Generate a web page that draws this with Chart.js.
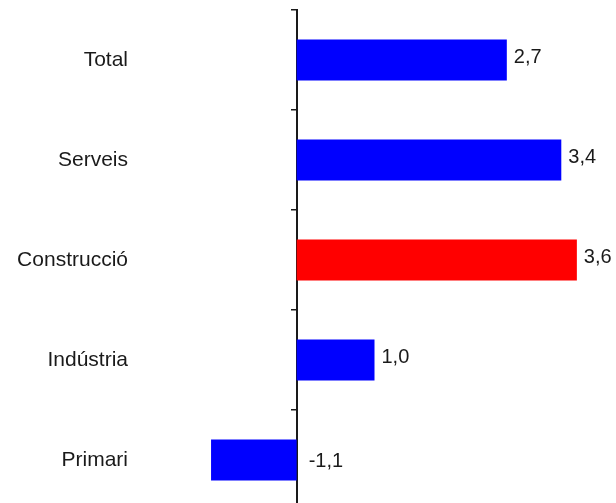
<!DOCTYPE html>
<html>
<head>
<meta charset="utf-8">
<script src="https://cdn.jsdelivr.net/npm/chart.js@4/dist/chart.umd.min.js"></script>
<style>
html,body{margin:0;padding:0;background:#fff;overflow:hidden;}
canvas{display:block;}
</style>
</head>
<body>
<canvas id="c" width="616" height="510"></canvas>
<script>
const categories = ['Total', 'Serveis', 'Construcció', 'Indústria', 'Primari'];
const values = [2.7, 3.4, 3.6, 1.0, -1.1];
const barColors = ['#0000ff', '#0000ff', '#ff0000', '#0000ff', '#0000ff'];
const xMin = -2;
const xMax = 4;

const valueLabels = {
  id: 'valueLabels',
  afterDatasetsDraw(chart) {
    const ctx = chart.ctx;
    const meta = chart.getDatasetMeta(0);
    const zero = chart.scales.x.getPixelForValue(0);
    ctx.save();
    ctx.font = '20px "Liberation Sans", Arial, sans-serif';
    ctx.fillStyle = '#1a1a1a';
    ctx.textAlign = 'left';
    ctx.textBaseline = 'middle';
    meta.data.forEach((bar, i) => {
      const v = values[i];
      const txt = v.toFixed(1).replace('.', ',');
      const x = v >= 0 ? bar.x + 7 : zero + 12;
      const y = v >= 0 ? bar.y - 3 : bar.y + 1;
      ctx.fillText(txt, x, y);
    });
    ctx.restore();
  }
};

function noPad(scale) {
  scale.paddingTop = 0;
  scale.paddingBottom = 0;
  scale.paddingLeft = 0;
  scale.paddingRight = 0;
}

new Chart(document.getElementById('c'), {
  type: 'bar',
  data: {
    labels: categories,
    datasets: [{
      data: values,
      backgroundColor: barColors,
      borderWidth: 0,
      barPercentage: 0.41,
      categoryPercentage: 1.0
    }]
  },
  options: {
    indexAxis: 'y',
    responsive: false,
    animation: false,
    layout: { padding: { top: 10, bottom: 0, left: 0, right: 8 } },
    plugins: { legend: { display: false }, tooltip: { enabled: false } },
    scales: {
      x: {
        type: 'linear',
        min: xMin,
        max: xMax,
        display: false,
        afterFit: noPad
      },
      y: {
        type: 'category',
        position: 'left',
        offset: true,
        grid: { display: false, drawTicks: false },
        border: { display: false },
        ticks: {
          padding: 13,
          color: '#1a1a1a',
          font: { family: '"Liberation Sans", Arial, sans-serif', size: 21 }
        },
        afterFit(scale) { noPad(scale); scale.width = 141; }
      },
      y2: {
        type: 'category',
        position: { x: 0 },
        offset: true,
        grid: {
          offset: true,
          drawOnChartArea: false,
          drawTicks: true,
          tickLength: 5,
          color: '#1a1a1a',
          lineWidth: 1.5
        },
        border: { display: true, color: '#1a1a1a', width: 2 },
        ticks: { display: false },
        afterFit: noPad
      }
    }
  },
  plugins: [valueLabels]
});
</script>
</body>
</html>
